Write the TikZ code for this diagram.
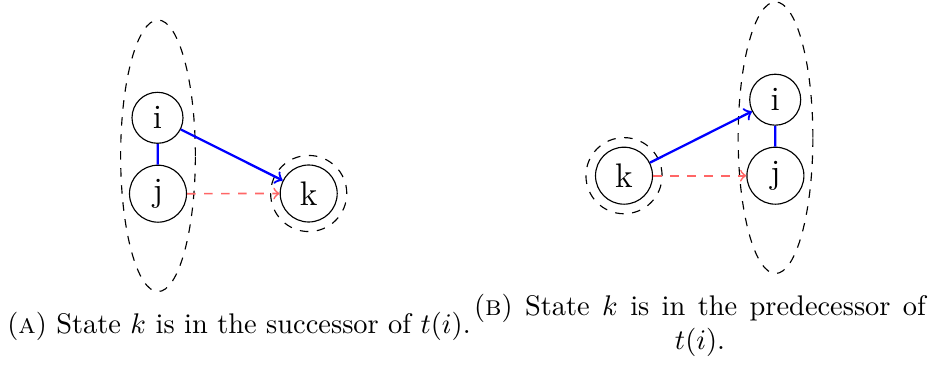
\documentclass[tikz,border=0pt]{standalone}
\usetikzlibrary{shapes.geometric}
\begin{document}
\begin{tikzpicture}[x=0.352pt,y=-0.352pt,
  st/.style={circle,draw,inner sep=0pt,font=\large},
  si/.style={st,minimum size=17.95pt},
  sj/.style={st,minimum size=20.06pt},
  outer/.style={circle,draw,dashed,inner sep=0pt,minimum size=26.8pt},
  grp/.style={ellipse,draw,dashed,inner sep=0pt,minimum width=26.3pt,minimum height=95.6pt},
  link/.style={blue,thick},
  arr/.style={blue,thick,->},
  rarr/.style={red!60,semithick,dashed,->},
  captxt/.style={anchor=base,inner sep=0pt,font=\normalsize}]
\useasboundingbox (0,0) rectangle (934,365);
% panel A
\node[grp] (ea) at (158,155.8) {};
\node[si] (ia) at (157.5,117.8) {i};
\node[sj] (ja) at (158,193.7) {j};
\node[sj] (ka) at (308.7,193.5) {k};
\node[outer] (oka) at (308.7,193.5) {};
\draw[link] (ia) -- (ja);
\draw[arr] (ia) -- (ka);
\draw[rarr] (ja) -- (ka);
% panel B
\node[grp] (eb) at (775.5,137.7) {};
\node[sj] (kb) at (624,175.7) {k};
\node[outer] (okb) at (624,175.7) {};
\node[si] (ib) at (775.2,99.7) {i};
\node[sj] (jb) at (775.4,175.7) {j};
\draw[link] (ib) -- (jb);
\draw[arr] (kb) -- (ib);
\draw[rarr] (kb) -- (jb);
% captions
\node[captxt] (capa) at (239,333) {(\textsc{a}) State $k$ is in the successor of $t(i)$.};
\node[captxt] (capb1) at (700,315) {\makebox[159pt][s]{(\textsc{b}) State $k$ is in the predecessor of}};
\node[captxt] (capb2) at (700,349) {$t(i)$.};
\end{tikzpicture}
\end{document}
